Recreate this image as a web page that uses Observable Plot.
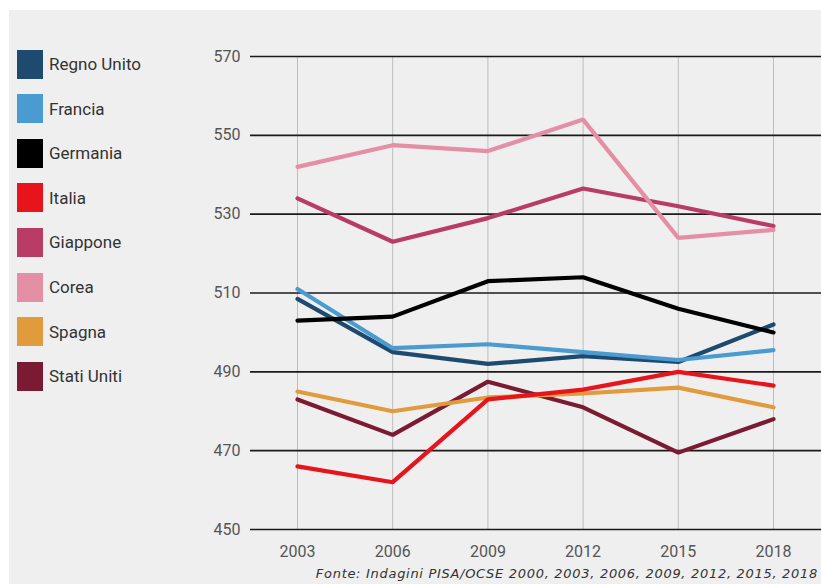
<!DOCTYPE html>
<html><head><meta charset="utf-8">
<script src="https://cdn.jsdelivr.net/npm/d3@7"></script>
<script src="https://cdn.jsdelivr.net/npm/@observablehq/plot@0.6"></script>
<style>
body{margin:0;background:#fff;}
#wrap{position:relative;width:821px;height:584px;overflow:hidden;}
#bg{position:absolute;left:9px;top:10px;right:0;bottom:0;background:#efefef;}
#chart{position:absolute;left:0;top:0;}
#legend{position:absolute;left:0;top:0;font-family:Roboto,"DejaVu Sans",sans-serif;font-size:17px;color:#333;}
.item{position:absolute;left:17px;height:29px;display:flex;align-items:center;white-space:nowrap;}
.sw{width:26px;height:29px;margin-right:6px;}
#caption{position:absolute;right:3px;top:566px;font-family:"DejaVu Sans",sans-serif;font-style:italic;font-size:13px;letter-spacing:0.7px;line-height:15px;color:#333;white-space:nowrap;}
</style>
</head><body>
<div id="wrap"><div id="bg"></div><div id="chart"></div><div id="legend"></div><div id="caption"></div></div>
<script>
const years = [2003, 2006, 2009, 2012, 2015, 2018];
const countries = ["Regno Unito","Francia","Germania","Italia","Giappone","Corea","Spagna","Stati Uniti"];
const colors = ["#1d4a6e","#4a9bd0","#000000","#e8141c","#b83c66","#e48fa6","#e09b3d","#7a1a33"];
const regnoUnito = [508.5, 495, 492, 494, 492.5, 502];
const francia    = [511, 496, 497, 495, 493, 495.5];
const germania   = [503, 504, 513, 514, 506, 500];
const italia     = [466, 462, 483, 485.5, 490, 486.5];
const giappone   = [534, 523, 529, 536.5, 532, 527];
const corea      = [542, 547.5, 546, 554, 524, 526];
const spagna     = [485, 480, 483.5, 484.5, 486, 481];
const statiUniti = [483, 474, 487.5, 481, 469.5, 478];
const yTicks = [450, 470, 490, 510, 530, 550, 570];
const caption = "Fonte: Indagini PISA/OCSE 2000, 2003, 2006, 2009, 2012, 2015, 2018";

const series = [regnoUnito, francia, germania, italia, giappone, corea, spagna, statiUniti];
const rows = [];
series.forEach((vals, i) => vals.forEach((v, j) => rows.push({country: countries[i], year: years[j], value: v})));
const drawOrder = ["Regno Unito","Francia","Giappone","Corea","Stati Uniti","Spagna","Italia","Germania"];

const chart = Plot.plot({
  width: 821, height: 584,
  marginLeft: 250, marginRight: 0, marginTop: 56, marginBottom: 55,
  style: {background: "transparent", fontFamily: "Roboto, sans-serif"},
  x: {type: "linear", domain: [2003, 2018], range: [297, 773]},
  y: {domain: [450, 570]},
  color: {domain: countries, range: colors},
  marks: [
    Plot.ruleX(years, {x: d => d, y1: 450, y2: 570, stroke: "#bdbdbd", strokeWidth: 1}),
    Plot.ruleY(yTicks, {y: d => d, stroke: "#1a1a1a", strokeWidth: 1.6}),
    ...drawOrder.map(c => Plot.line(rows.filter(r => r.country === c), {x: "year", y: "value", stroke: "country", strokeWidth: 4.2, strokeLinejoin: "miter"})),
    Plot.axisY({ticks: yTicks, tickSize: 0, tickPadding: 10, fontSize: 16, color: "#555", label: null}),
    Plot.axisX({ticks: years, tickSize: 0, tickPadding: 16, fontSize: 16, color: "#555", tickFormat: d => String(d), label: null})
  ]
});
document.getElementById("chart").appendChild(chart);

const leg = document.getElementById("legend");
countries.forEach((c, i) => {
  const it = document.createElement("div");
  it.className = "item";
  it.style.top = (49.5 + i * 44.6) + "px";
  const sw = document.createElement("div");
  sw.className = "sw";
  sw.style.background = colors[i];
  const t = document.createElement("span");
  t.textContent = c;
  it.appendChild(sw); it.appendChild(t);
  leg.appendChild(it);
});
document.getElementById("caption").textContent = caption;
</script>
</body></html>
